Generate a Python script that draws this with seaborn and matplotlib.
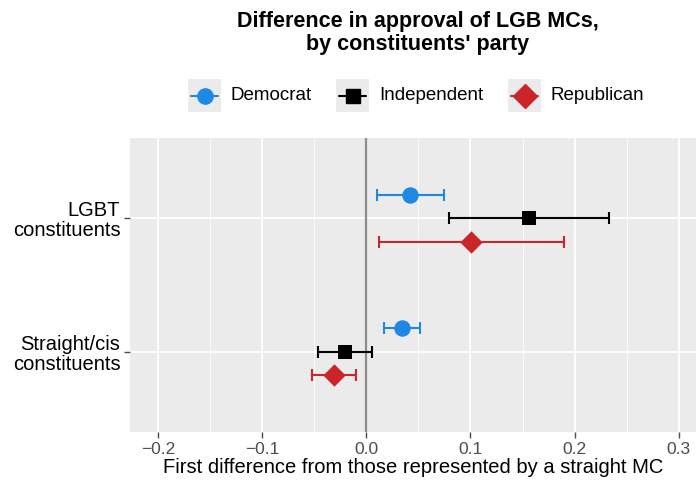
import numpy as np
import pandas as pd
import matplotlib
matplotlib.use("Agg")
import matplotlib.pyplot as plt
from matplotlib.patches import Rectangle
from matplotlib.lines import Line2D
import seaborn as sns

# ---- data ----
groups = ["LGBT\nconstituents", "Straight/cis\nconstituents"]
parties = ["Democrat", "Independent", "Republican"]
est_lgbt = [0.042, 0.156, 0.101]
lo_lgbt = [0.010, 0.079, 0.012]
hi_lgbt = [0.075, 0.233, 0.190]
est_straight = [0.034, -0.020, -0.031]
lo_straight = [0.017, -0.046, -0.052]
hi_straight = [0.052, 0.006, -0.010]
xticks = [-0.2, -0.1, 0.0, 0.1, 0.2, 0.3]

colors = {"Democrat": "#1E88E5", "Independent": "#000000", "Republican": "#CC2529"}
markers = {"Democrat": "o", "Independent": "s", "Republican": "D"}
msize = {"Democrat": 140, "Independent": 110, "Republican": 130}
offset = {"Democrat": -0.175, "Independent": 0.0, "Republican": 0.175}

rows = []
for gi, (g, e, l, h) in enumerate([(groups[0], est_lgbt, lo_lgbt, hi_lgbt),
                                    (groups[1], est_straight, lo_straight, hi_straight)]):
    for pi, p in enumerate(parties):
        rows.append(dict(group=g, party=p, est=e[pi], lo=l[pi], hi=h[pi],
                         ypos=gi + offset[p]))
df = pd.DataFrame(rows)

sns.set_theme(style="darkgrid")
plt.rcParams["font.family"] = ["Liberation Sans", "DejaVu Sans"]

fig = plt.figure(figsize=(6.96, 4.8), dpi=100)
ax = fig.add_axes([130/696, 1 - 432/480, 1 - 130/696, (432 - 138)/480])
ax.set_facecolor("#EBEBEB")

ax.axvline(0, color="#8C8C8C", lw=1.6, zorder=1.5)

for p in parties:
    d = df[df.party == p]
    ax.errorbar(d.est, d.ypos, xerr=[d.est - d.lo, d.hi - d.est], fmt="none",
                ecolor=colors[p], elinewidth=1.5, capsize=4, capthick=1.5, zorder=2)
    sns.scatterplot(data=d, x="est", y="ypos", marker=markers[p], color=colors[p],
                    s=msize[p], edgecolor=colors[p], linewidth=0, ax=ax, zorder=3,
                    legend=False)

ax.set_xlim(-0.2267, 0.3165)
ax.set_ylim(1.6, -0.6)
ax.set_xticks(xticks)
ax.set_xticklabels(["\u22120.2", "\u22120.1", "0.0", "0.1", "0.2", "0.3"])
ax.set_xticks([-0.15, -0.05, 0.05, 0.15, 0.25], minor=True)
ax.set_yticks([0, 1])
ax.set_yticklabels(groups, ha="right", fontsize=14.5, color="#000000",
                   linespacing=1.05)
ax.grid(which="major", color="white", lw=1.3)
ax.grid(which="minor", axis="x", color="white", lw=0.6)
ax.tick_params(axis="x", labelsize=12.5, colors="#4D4D4D", length=4, width=1,
               direction="out", bottom=True, labelcolor="#4D4D4D", pad=3)
ax.tick_params(axis="y", length=4, width=1, colors="#4D4D4D", left=True,
               labelcolor="#000000", pad=3)
ax.tick_params(axis="x", which="minor", bottom=False)
for s in ax.spines.values():
    s.set_visible(False)
ax.set_xlabel("First difference from those represented by a straight MC",
              fontsize=14.5, color="#000000", labelpad=1)
ax.set_ylabel("")

# title
fig.text(418/696, 1 - 33/480, "Difference in approval of LGB MCs,\nby constituents' party",
         ha="center", va="center", fontsize=15.5, fontweight="bold", linespacing=1.15,
         color="#000000")

# legend
leg_items = [("Democrat", 188, 230), ("Independent", 336, 379), ("Republican", 508, 551)]
for p, bx, tx in leg_items:
    fig.patches.append(Rectangle((bx/696, 1 - 112/480), 33/696, 33/480,
                                 transform=fig.transFigure, facecolor="#EBEBEB",
                                 edgecolor="none"))
    y = 1 - 95.5/480
    fig.lines.append(Line2D([(bx + 3)/696, (bx + 30)/696], [y, y],
                            transform=fig.transFigure, color=colors[p], lw=1.5))
    fig.lines.append(Line2D([(bx + 16.5)/696], [y], transform=fig.transFigure,
                            marker=markers[p], color=colors[p], lw=0,
                            markersize={"Democrat": 11, "Independent": 10, "Republican": 12}[p]))
    fig.text(tx/696, y, p, ha="left", va="center", fontsize=13.5, color="#000000")

fig.savefig("out.png", dpi=100)
